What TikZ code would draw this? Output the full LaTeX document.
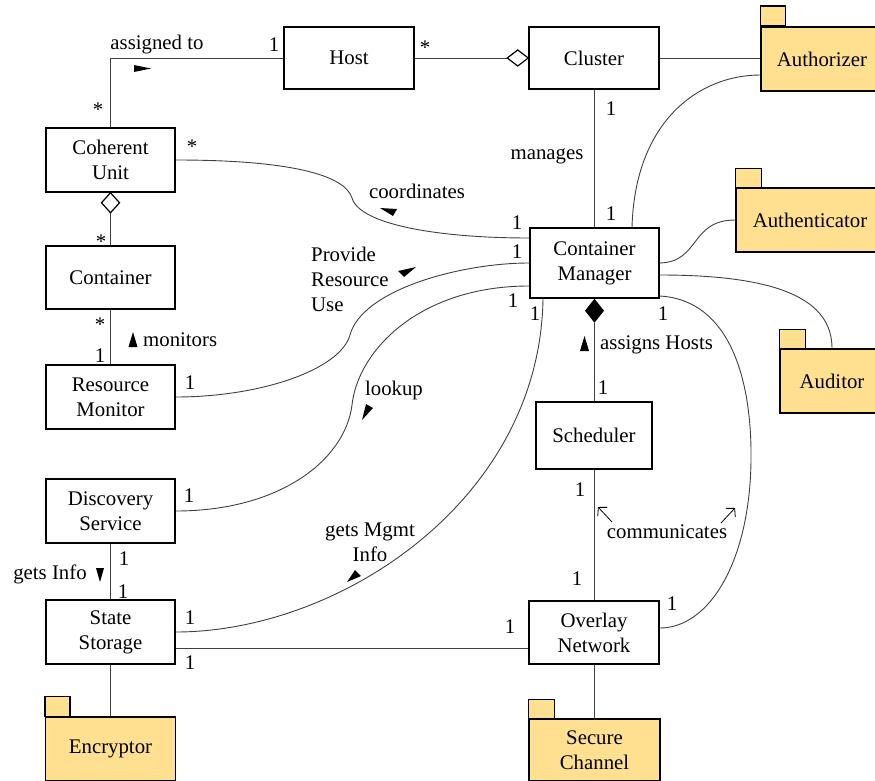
\documentclass[tikz,border=0pt]{standalone}
\usepackage{fontspec}
\setmainfont{Liberation Serif}
\usetikzlibrary{calc,arrows.meta}
\definecolor{pkg}{RGB}{254,224,144}
\begin{document}
\begin{tikzpicture}[x=1pt,y=-1pt,
  every node/.style={font=\fontsize{20.8}{25}\selectfont},
  box/.style={draw,line width=1.5pt,inner sep=0pt,align=center},
  pkgbody/.style={box,fill=pkg},
  pkgtab/.style={draw,line width=1.5pt,fill=pkg},
  conn/.style={line width=0.9pt,draw=black!75},
  lbl/.style={inner sep=0pt,text height=0.7em,text depth=0.2em},
  multi/.style={inner sep=0pt,align=center},
  tri/.style={fill=black},
  openarrow/.style={line width=0.8pt,-{Straight Barb[length=6pt,width=13pt]}},
]
\useasboundingbox (0,0) rectangle (875,781);

% class boxes
\node[box,minimum width=130pt,minimum height=62pt] (host) at (349,58) {Host};
\node[box,minimum width=130pt,minimum height=62pt] (cluster) at (594,58) {Cluster};
\node[box,minimum width=129pt,minimum height=64pt] (cu) at (110.5,160) {Coherent\\Unit};
\node[box,minimum width=129pt,minimum height=63pt] (cont) at (110.5,277.5) {Container};
\node[box,minimum width=129pt,minimum height=64pt] (rm) at (110.5,397) {Resource\\Monitor};
\node[box,minimum width=129pt,minimum height=64pt] (ds) at (110.5,511) {Discovery\\Service};
\node[box,minimum width=129pt,minimum height=64pt] (ss) at (110.5,632) {State\\Storage};
\node[box,minimum width=129pt,minimum height=70pt] (cm) at (594.5,263) {Container\\Manager};
\node[box,minimum width=116pt,minimum height=67pt] (sched) at (594,435.5) {Scheduler};
\node[box,minimum width=130pt,minimum height=63pt] (on) at (594,632.5) {Overlay\\Network};

% packages
\node[pkgbody,minimum width=122pt,minimum height=64pt] (authz) at (822,59) {Authorizer};
\draw[pkgtab] (authz.north west) rectangle ++(25,-20);
\node[pkgbody,minimum width=148pt,minimum height=64pt] (authn) at (810,220) {Authenticator};
\draw[pkgtab] (authn.north west) rectangle ++(26,-19);
\node[pkgbody,minimum width=104pt,minimum height=64pt] (aud) at (832,381) {Auditor};
\draw[pkgtab] (aud.north west) rectangle ++(26,-19);
\node[pkgbody,minimum width=130pt,minimum height=64pt] (enc) at (110.5,749) {Encryptor};
\draw[pkgtab] (enc.north west) rectangle ++(25,-20);
\node[pkgbody,minimum width=131pt,minimum height=62pt] (sec) at (594.5,750) {Secure\\Channel};
\draw[pkgtab] (sec.north west) rectangle ++(26,-19);

% straight connectors
\draw[conn] (cu.north) -- (cu.north |- host.west) -- (host.west);
\coordinate (dHl) at ($(cluster.west)+(-21,0)$);
\draw[conn] (host.east) -- (dHl);
\draw[line width=1.2pt,fill=white] (cluster.west) -- ++(-10.5,-8) -- (dHl) -- ++(10.5,8) -- cycle;
\draw[conn] (cluster.east) -- (authz.west |- cluster.east);
\draw[conn] (cluster.south) -- (cluster.south |- cm.north);

\coordinate (dCU) at ($(cu.south)+(0,20)$);
\draw[conn] (dCU) -- (cont.north);
\draw[line width=1.2pt,fill=white] (cu.south) -- ++(9,10) -- (dCU) -- ++(-9,-10) -- cycle;
\draw[conn] (cont.south) -- (rm.north);
\draw[conn] (ds.south) -- (ss.north);
\draw[conn] (ss.south) -- (enc.north);
\coordinate (ssline) at ($(ss.east)+(0,16)$);
\draw[conn] (ssline) -- (on.west |- ssline);

\coordinate (dCM) at ($(cm.south)+(0,24)$);
\draw[conn] (dCM) -- (dCM |- sched.north);
\fill[black] (cm.south) -- ++(9.5,12) -- (dCM) -- ++(-9.5,-12) -- cycle;
\draw[conn] (sched.south) -- (sched.south |- on.north);
\draw[conn] (on.south) -- (on.south |- sec.north);

% curved connectors
\draw[conn] (cu.east) .. controls (290,160) and (345,175) .. (352,198)
  .. controls (360,225) and (440,238) .. ($(cm.west)+(0,-25)$);
\draw[conn] (rm.east) .. controls (260,397) and (340,370) .. (350,335)
  .. controls (362,290) and (460,263) .. (cm.west);
\draw[conn] (ds.east) .. controls (280,511) and (345,460) .. (352,405)
  .. controls (358,350) and (420,286) .. ($(cm.west)+(0,23)$);
\draw[conn] (ss.east) .. controls (340,632) and (540,500) .. ($(cm.south)+(-51.5,0)$);
\draw[conn] ($(cm.east)+(0,33)$) .. controls (730,300) and (752,380) .. (751,460)
  .. controls (750,560) and (710,628) .. ($(on.east)+(0,-4.5)$);
\draw[conn] ($(cm.north)+(37.5,0)$) .. controls (635,120) and (700,75) .. ($(authz.west)+(0,16)$);
\draw[conn] (cm.east) .. controls (700,262) and (690,220) .. (authn.west);
\draw[conn] ($(cm.east)+(0,12)$) .. controls (780,275) and (832,300) .. (aud.north);

% direction triangles
\fill[tri] (134,65) -- (151,68.5) -- (134,72) -- cycle;
\fill[tri] (380,208) -- (397,209) -- (393,216) -- cycle;
\fill[tri] (416,267) -- (398,271) -- (404,277) -- cycle;
\fill[tri] (362,420) -- (366,404) -- (373,408) -- cycle;
\fill[tri] (347,582) -- (355,570) -- (361,576) -- cycle;
\fill[tri] (128.5,347) -- (133,332) -- (137.5,347) -- cycle;
\fill[tri] (580,351) -- (584.5,336) -- (589,351) -- cycle;
\fill[tri] (96,568) -- (104,568) -- (100,582) -- cycle;
\draw[openarrow] (612,522) -- (598,507);
\draw[openarrow] (721,523) -- (735,508);

% labels
\node[lbl] (t1) at (157,47) {assigned to};
\node[lbl] (t2) at (274,49) {1};
\node[lbl] (t3) at (98,114) {*};
\node[lbl] (t4) at (192,151) {*};
\node[lbl] (t5) at (101,246) {*};
\node[lbl] (t6) at (425,52) {*};
\node[lbl] (t7) at (547,157) {manages};
\node[lbl] (t8) at (611,113.5) {1};
\node[lbl] (t9) at (611,217.5) {1};
\node[lbl] (t10) at (417,196) {coordinates};
\node[lbl] (t11) at (517,226.5) {1};
\node[lbl] (t12) at (517,255.5) {1};
\node[lbl] (t13) at (513,304.5) {1};
\node[lbl] (t14) at (535,317.5) {1};
\node[inner sep=0pt,align=left,anchor=west] (t15) at (311,279) {Provide\\Resource\\Use};
\node[lbl] (t16) at (394,393) {lookup};
\node[lbl] (t17) at (190,386.5) {1};
\node[lbl] (t18) at (100,329) {*};
\node[lbl] (t19) at (100,359.5) {1};
\node[lbl,anchor=west] (t20) at (143,344) {monitors};
\node[lbl] (t21) at (189,499.5) {1};
\node[lbl] (t22) at (124,562.5) {1};
\node[lbl] (t23) at (123,595.5) {1};
\node[lbl] (t24) at (50,577) {gets Info};
\node[lbl] (t25) at (190,621.5) {1};
\node[lbl] (t26) at (190,666.5) {1};
\node[multi] (t27) at (370,542) {gets Mgmt\\Info};
\node[lbl] (t28) at (510,630.5) {1};
\node[lbl] (t29) at (580,493.5) {1};
\node[lbl] (t30) at (577,582.5) {1};
\node[lbl] (t31) at (663,317.5) {1};
\node[lbl] (t32) at (672,607.5) {1};
\node[lbl] (t33) at (667,536) {communicates};
\node[lbl,anchor=west] (t34) at (600,347) {assigns Hosts};
\node[lbl] (t35) at (603,391.5) {1};
\end{tikzpicture}
\end{document}
